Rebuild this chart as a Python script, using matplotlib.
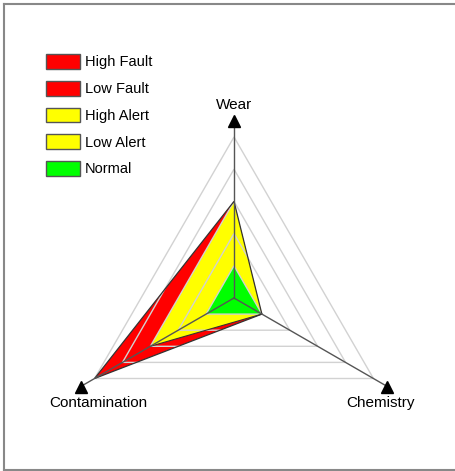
import matplotlib
matplotlib.use("Agg")
import numpy as np
import matplotlib.pyplot as plt
from matplotlib.patches import Polygon, Patch
from matplotlib.lines import Line2D

plt.rcParams['font.family'] = ['Liberation Sans', 'DejaVu Sans']

# radar axes, clockwise from top
axes_names = ["Wear", "Chemistry", "Contamination"]
axes_angles = [90, -30, 210]  # degrees

# limit levels, one value per axis (Wear, Chemistry, Contamination)
levels = ["High Fault", "Low Fault", "High Alert", "Low Alert", "Normal"]
wear = [3, 3, 3, 3, 1]
chemistry = [1, 1, 1, 1, 1]
contamination = [5, 4, 3, 2, 1]
colors = ["#ff0000", "#ff0000", "#ffff00", "#ffff00", "#00ff00"]

rings = [1, 2, 3, 4, 5]
axis_end = 5.5

W, H = 455, 471
cx, cy, unit = 234, 298, 32.2  # centre and scale in pixels

fig = plt.figure(figsize=(W / 100, H / 100), dpi=100)
ax = fig.add_axes([0, 0, 1, 1])
ax.set_xlim(-cx / unit, (W - cx) / unit)
ax.set_ylim(-(H - cy) / unit, cy / unit)
ax.axis("off")

ang = np.radians(axes_angles)


def to_xy(vals):
    vals = np.asarray(vals, dtype=float)
    return np.column_stack([vals * np.cos(ang), vals * np.sin(ang)])


# level polygons, largest first (no edges, they blend into each other)
for i in range(len(levels)):
    pts = to_xy([wear[i], chemistry[i], contamination[i]])
    ax.add_patch(Polygon(pts, closed=True, facecolor=colors[i],
                         edgecolor="none", zorder=2 + i))

# grid triangles drawn over the fills
for r in rings:
    ax.add_patch(Polygon(to_xy([r, r, r]), closed=True, fill=False,
                         edgecolor="#d2d2d2", lw=1, zorder=8))

# outline of the outermost level
ax.add_patch(Polygon(to_xy([wear[0], chemistry[0], contamination[0]]), closed=True,
                     fill=False, edgecolor="#333333", lw=0.9, zorder=9))
# lower edge of the high alert level
ha = to_xy([wear[2], chemistry[2], contamination[2]])
ax.plot(ha[1:, 0], ha[1:, 1], color="#333333", lw=0.8, zorder=9)

# axes lines with arrow heads
ends = to_xy([axis_end] * 3)
for (x, y) in ends:
    ax.plot([0, x], [0, y], color="#555555", lw=1, zorder=10)
    ax.plot(x, y, marker="^", color="black", ms=9, zorder=11)

# axis labels
ax.text(ends[0][0], ends[0][1] + 0.5, "Wear", ha="center", va="center", fontsize=11)
ax.text(ends[1][0] - 0.2, ends[1][1] - 0.5, "Chemistry", ha="center", va="center", fontsize=11)
ax.text(ends[2][0] + 0.55, ends[2][1] - 0.5, "Contamination", ha="center", va="center", fontsize=11)

# legend
handles = [Patch(facecolor=c, edgecolor="#555555", lw=1) for c in colors]
fig.legend(handles, levels, loc="upper left", bbox_to_anchor=(46 / W, 1 - 54 / H),
           frameon=False, fontsize=10.5, borderpad=0, borderaxespad=0,
           handlelength=2.33, handleheight=1.2, handletextpad=0.35,
           labelspacing=0.78)

# outer frame (left, top, bottom)
frame_kw = dict(color="#888888", lw=1.5, transform=fig.transFigure)
fig.add_artist(Line2D([4 / W, 4 / W], [1 - 4 / H, 1 - 470 / H], **frame_kw))
fig.add_artist(Line2D([4 / W, 1], [1 - 4 / H, 1 - 4 / H], **frame_kw))
fig.add_artist(Line2D([4 / W, 1], [1 - 470 / H, 1 - 470 / H], **frame_kw))

fig.savefig("out.png", dpi=100)
